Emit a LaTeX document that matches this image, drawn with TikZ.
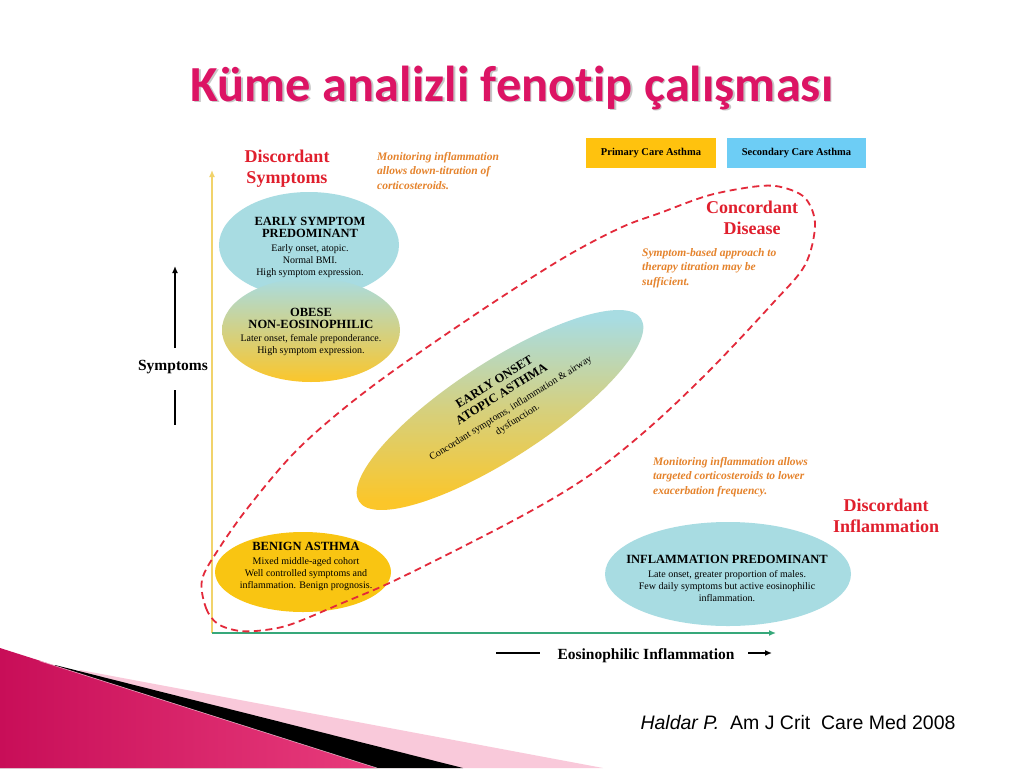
\documentclass[tikz,border=0pt]{standalone}
\usepackage{fontspec}
\setmainfont{Liberation Serif}
\newfontfamily\titlefont[Ligatures=NoCommon]{Carlito}
\newfontfamily\refsans{Liberation Sans}
\usetikzlibrary{arrows.meta}
\definecolor{ttlpink}{HTML}{DC1464}
\definecolor{lblred}{HTML}{E01F2D}
\definecolor{orgtxt}{HTML}{E5832C}
\definecolor{lblue}{HTML}{A8DCE2}
\definecolor{gold}{HTML}{F9C512}
\definecolor{goldsoft}{HTML}{FBC62A}
\definecolor{boxgold}{HTML}{FFC20E}
\definecolor{boxblue}{HTML}{6DCDF5}
\definecolor{yaxis}{HTML}{F1D36B}
\definecolor{xaxis}{HTML}{36A87A}
\definecolor{dashred}{HTML}{E3293A}
\definecolor{magA}{HTML}{C80E58}
\definecolor{magB}{HTML}{E83C7C}
\definecolor{pinkl}{HTML}{F9C9DA}
\newcommand\hdf{\bfseries\fontsize{12.5}{15.5}\selectfont}
\newcommand\bdf{\normalfont\fontsize{10}{11.2}\selectfont}
\begin{document}
\begin{tikzpicture}[x=1pt,y=-1pt,
  redlbl/.style={text=lblred, font=\bfseries\fontsize{18}{21}\selectfont, align=center, inner sep=0pt},
  orglbl/.style={text=orgtxt, font=\bfseries\itshape\fontsize{11.5}{14.5}\selectfont, align=left, anchor=west, inner sep=0pt},
  intext/.style={align=center, inner sep=0pt},
  legbox/.style={minimum width=#1, minimum height=30pt, inner sep=0pt, font=\bfseries\fontsize{10.5}{12}\selectfont},
  axlbl/.style={font=\bfseries\fontsize{15.5}{18}\selectfont, inner sep=0pt},
  concord/.style={dashred, line width=1.8pt, dash pattern=on 7pt off 4.5pt}
]
\useasboundingbox (0,0) rectangle (1024,768);
\fill[white] (0,0) rectangle (1024,768);

% bottom-left decoration
\fill[pinkl] (80,670) -- (603,768) -- (0,768) -- cycle;
\fill[black] (55,665) -- (463,768) -- (0,768) -- cycle;
\shade[left color=magA, right color=magB] (0,648) -- (377,768) -- (0,768) -- cycle;
\draw[white, opacity=0.6, line width=0.6pt] (40,661) -- (377,768);

% title
\node[font=\titlefont\bfseries\fontsize{50.5}{54}\selectfont, text=black!22] (titleshadow) at (513.5,89.5) {Küme analizli fenotip çalışması};
\node[font=\titlefont\bfseries\fontsize{50.5}{54}\selectfont, text=ttlpink] (title) at (512,88) {Küme analizli fenotip çalışması};

% legend boxes
\node[legbox=130pt, fill=boxgold] (primary) at (651,153) {\raisebox{3pt}{Primary Care Asthma}};
\node[legbox=139pt, fill=boxblue] (secondary) at (796.5,153) {\raisebox{3pt}{Secondary Care Asthma}};

% phenotype ellipses
\fill[lblue] (309,245) ellipse [x radius=90pt, y radius=53pt];
\shade[top color=lblue, bottom color=goldsoft] (311,330) ellipse [x radius=89pt, y radius=52pt];
\shade[top color=lblue, bottom color=goldsoft, middle color=lblue!45!goldsoft] (500,410) ellipse [x radius=168pt, y radius=48pt, rotate=33];
\fill[gold] (303,572) ellipse [x radius=88pt, y radius=40pt];
\fill[lblue] (728,574) ellipse [x radius=123pt, y radius=52pt];

% ellipse texts
\node[intext] (early) at (310,247) {\hdf EARLY SYMPTOM\\\hdf PREDOMINANT\\[2pt]\bdf Early onset, atopic.\\\bdf Normal BMI.\\\bdf High symptom expression.};
\node[intext] (obese) at (311,332) {\hdf OBESE\\\hdf NON-EOSINOPHILIC\\[1pt]\bdf Later onset, female preponderance.\\\bdf High symptom expression.};
\node[intext, rotate=32] (atopic) at (506,401) {\hdf EARLY ONSET\\[2pt]\hdf ATOPIC ASTHMA\\[4pt]\bdf Concordant symptoms, inflammation \& airway\\[1pt]\bdf dysfunction.};
\node[intext] (benign) at (306,566) {\hdf BENIGN ASTHMA\\[2pt]\bdf Mixed middle-aged cohort\\\bdf Well controlled symptoms and\\\bdf inflammation. Benign prognosis.};
\node[intext] (inflam) at (727,578) {\hdf INFLAMMATION PREDOMINANT\\[2pt]\bdf Late onset, greater proportion of males.\\\bdf Few daily symptoms but active eosinophilic\\\bdf inflammation.};

% axes
\coordinate (O) at (212,633);
\coordinate (ytop) at (212,170);
\coordinate (xend) at (776,633);
\draw[yaxis, line width=2pt, -{Latex[length=7pt,width=6pt]}] (O) -- (ytop);
\draw[xaxis, line width=2.5pt, -{Latex[length=7pt,width=6pt]}] (O) -- (xend);

% axis labels
\node[axlbl] (symp) at (173,367) {Symptoms};
\coordinate (sa1) at (175,348);
\coordinate (sa2) at (175,266);
\coordinate (sb1) at (175,390);
\coordinate (sb2) at (175,425);
\draw[black, line width=2pt, -{Latex[length=7pt,width=6pt]}] (sa1) -- (sa2);
\draw[black, line width=2pt] (sb1) -- (sb2);

\node[axlbl] (eos) at (646,656) {Eosinophilic Inflammation};
\coordinate (ea1) at (496,653);
\coordinate (ea2) at (540,653);
\coordinate (eb1) at (748,653);
\coordinate (eb2) at (772,653);
\draw[black, line width=2.5pt] (ea1) -- (ea2);
\draw[black, line width=2pt, -{Latex[length=7pt,width=6pt]}] (eb1) -- (eb2);

% red labels
\node[redlbl] (dsymp) at (287,169) {Discordant\\Symptoms};
\node[redlbl] (cdis) at (752,218) {Concordant\\Disease};
\node[redlbl] (dinfl) at (886,516) {Discordant\\Inflammation};

% orange notes
\node[orglbl] (note1) at (377,171) {Monitoring inflammation\\allows down-titration of\\corticosteroids.};
\node[orglbl] (note2) at (642,268) {Symptom-based approach to\\therapy titration may be\\sufficient.};
\node[orglbl] (note3) at (653,477) {Monitoring inflammation allows\\targeted corticosteroids to lower\\exacerbation frequency.};

% concordant disease outline
\draw[concord] plot[smooth cycle, tension=0.55] coordinates {
 (202,580) (206,608) (218,624) (240,631) (265,630) (292,624) (340,604) (400,578)
 (520,517) (590,475) (650,427) (710,370) (773,303) (805,265) (815,225) (806,199)
 (785,188) (760,186) (710,195) (660,213) (620,228) (560,260) (470,318) (370,388)
 (300,447) (250,505) (218,550)};

% reference
\node[font=\refsans\fontsize{19.5}{22}\selectfont, anchor=base, inner sep=0pt] (ref) at (798,729) {\itshape Haldar P.\upshape\ \ Am J Crit\ \ Care Med 2008};
\end{tikzpicture}
\end{document}
